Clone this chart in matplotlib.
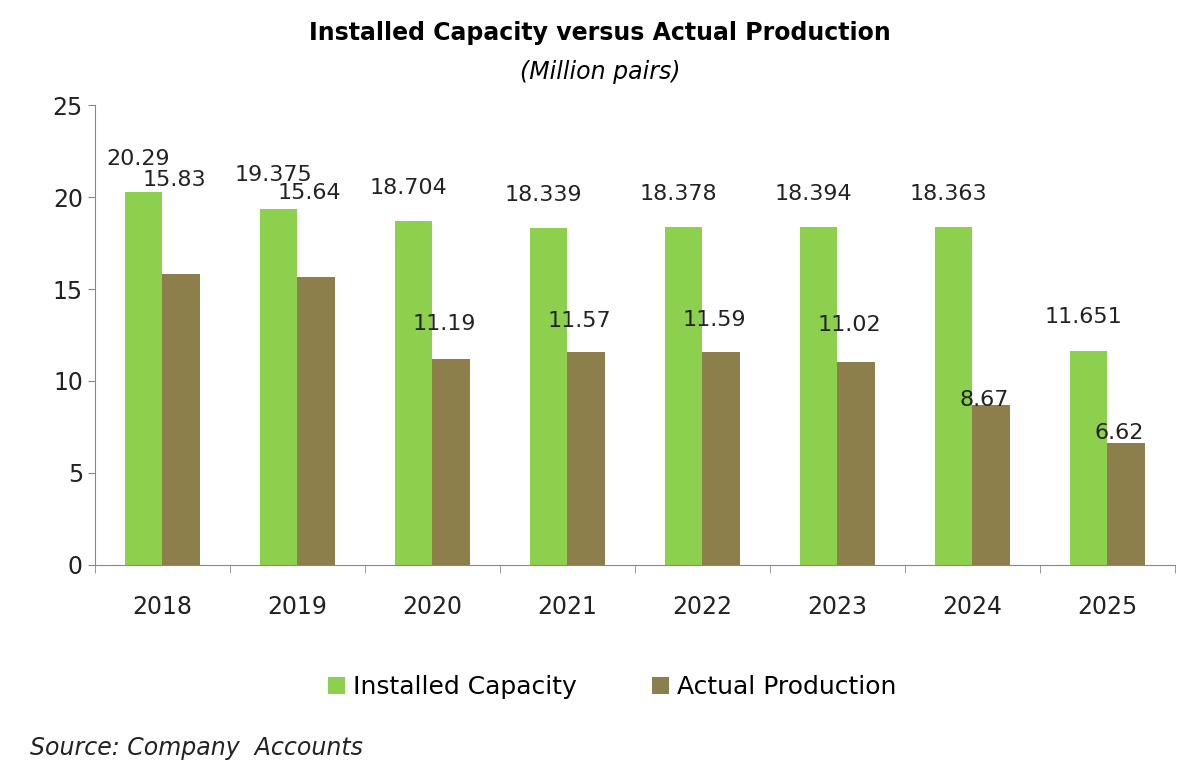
import matplotlib.pyplot as plt
import numpy as np

years = ['2018', '2019', '2020', '2021', '2022', '2023', '2024', '2025']
capacity = [20.29, 19.375, 18.704, 18.339, 18.378, 18.394, 18.363, 11.651]
production = [15.83, 15.64, 11.19, 11.57, 11.59, 11.02, 8.67, 6.62]
cap_labels = ['20.29', '19.375', '18.704', '18.339', '18.378', '18.394', '18.363', '11.651']
prod_labels = ['15.83', '15.64', '11.19', '11.57', '11.59', '11.02', '8.67', '6.62']

# label offsets above bar tops (as Excel placed them)
cap_off = [1.8, 1.8, 1.8, 1.8, 1.8, 1.8, 1.8, 1.8]
prod_off = [5.1, 4.6, 1.9, 1.7, 1.7, 2.0, 0.3, 0.55]

green = '#8CD04E'
olive = '#8C7F4B'

fig = plt.figure(figsize=(12, 7.79), dpi=100)
ax = fig.add_axes([0.079, 0.275, 0.9, 0.59])
x = np.arange(len(years))
w = 0.28
ax.bar(x - w / 2, capacity, w, color=green, label='Installed Capacity')
ax.bar(x + w / 2, production, w, color=olive, label='Actual Production')

for i in range(len(years)):
    ax.text(x[i] - w / 2 - 0.04, capacity[i] + cap_off[i], cap_labels[i], ha='center', va='center', fontsize=16, color='#222222')
    ax.text(x[i] + w / 2 - 0.05, production[i] + prod_off[i], prod_labels[i], ha='center', va='center', fontsize=16, color='#222222')

ax.set_xlim(-0.5, len(years) - 0.5)
ax.set_ylim(0, 25)
ax.set_yticks([0, 5, 10, 15, 20, 25])
ax.set_xticks(x)
ax.set_xticklabels(years)
ax.tick_params(axis='both', labelsize=17, colors='#222222', length=5, color='#888888')
ax.tick_params(axis='x', pad=22, length=0)
ax.set_xticks(np.arange(-0.5, len(years)), minor=True)
ax.tick_params(axis='x', which='minor', length=6, color='#888888')
for s in ['top', 'right']:
    ax.spines[s].set_visible(False)
for s in ['left', 'bottom']:
    ax.spines[s].set_color('#888888')

fig.text(0.5, 0.958, 'Installed Capacity versus Actual Production', ha='center', va='center', fontsize=17, fontweight='bold')
fig.text(0.5, 0.907, '(Million pairs)', ha='center', va='center', fontsize=17, fontstyle='italic')
fig.legend(loc='center', bbox_to_anchor=(0.51, 0.118), ncol=2, frameon=False, fontsize=18,
           handlelength=0.7, handleheight=0.7, columnspacing=3, handletextpad=0.3)
fig.text(0.025, 0.04, 'Source: Company  Accounts', ha='left', va='center', fontsize=17, fontstyle='italic', color='#222222')

fig.savefig('out.png')
